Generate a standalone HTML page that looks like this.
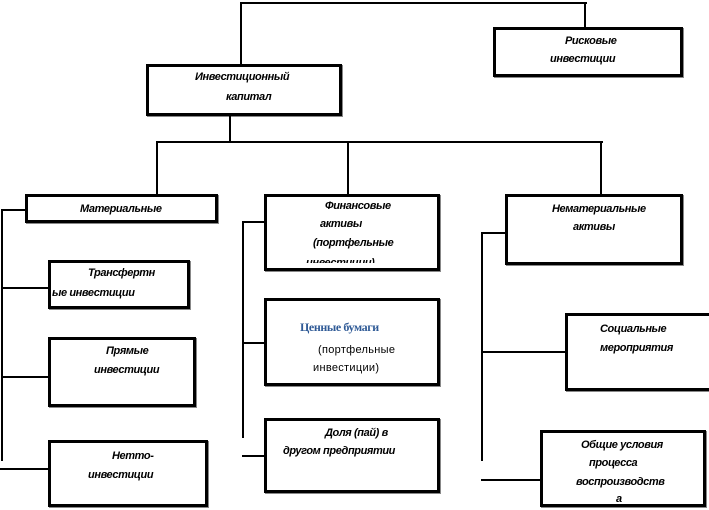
<!DOCTYPE html>
<html><head><meta charset="utf-8"><style>
body{margin:0;width:709px;height:509px;background:#fff;position:relative;overflow:hidden;font-family:"Liberation Sans",sans-serif;}
.b{position:absolute;border:3px solid #000;box-sizing:border-box;background:#fff;box-shadow:1px 1px 0 #888;overflow:hidden;}
.t{position:absolute;font-weight:bold;font-style:italic;font-size:11px;letter-spacing:-0.4px;color:#000;white-space:nowrap;line-height:22px;}
.h{position:absolute;background:#000;height:2px;}
.v{position:absolute;background:#000;width:2px;}
</style></head><body>
<div class="h" style="left:240px;top:2px;width:347px"></div>
<div class="v" style="left:240px;top:2px;height:62px"></div>
<div class="v" style="left:584px;top:2px;height:26px"></div>
<div class="b" style="left:493px;top:27px;width:190px;height:50px"></div>
<div class="t" style="left:565px;top:30px">Рисковые</div>
<div class="t" style="left:550px;top:48px">инвестиции</div>
<div class="b" style="left:146px;top:64px;width:196px;height:52px"></div>
<div class="t" style="left:195px;top:66px">Инвестиционный</div>
<div class="t" style="left:226px;top:86px">капитал</div>
<div class="v" style="left:229px;top:116px;height:26px"></div>
<div class="h" style="left:156px;top:141px;width:447px"></div>
<div class="v" style="left:156px;top:141px;height:53px"></div>
<div class="v" style="left:347px;top:141px;height:53px"></div>
<div class="v" style="left:600px;top:141px;height:53px"></div>
<div class="b" style="left:25px;top:194px;width:193px;height:29px"></div>
<div class="t" style="left:80px;top:198px">Материальные</div>
<div class="b" style="left:264px;top:194px;width:176px;height:77px"></div>
<div class="t" style="left:325px;top:197px;line-height:18px">Финансовые</div>
<div class="t" style="left:320px;top:215px;line-height:18px">активы</div>
<div class="t" style="left:313px;top:234px;line-height:18px">(портфельные</div>
<div class="t" style="left:306px;top:254px;line-height:18px;clip-path:inset(0 0 9px 0)">инвестиции)</div>
<div class="b" style="left:505px;top:194px;width:178px;height:71px"></div>
<div class="t" style="left:552px;top:198px">Нематериальные</div>
<div class="t" style="left:573px;top:216px">активы</div>
<!-- left column -->
<div class="v" style="left:1px;top:209px;height:252px"></div>
<div class="h" style="left:1px;top:209px;width:25px"></div>
<div class="b" style="left:48px;top:260px;width:142px;height:49px"></div>
<div class="t" style="left:88px;top:262px">Трансфертн</div>
<div class="t" style="left:52px;top:282px">ые инвестиции</div>
<div class="h" style="left:1px;top:287px;width:48px"></div>
<div class="b" style="left:48px;top:337px;width:148px;height:70px"></div>
<div class="t" style="left:106px;top:340px">Прямые</div>
<div class="t" style="left:94px;top:359px">инвестиции</div>
<div class="h" style="left:1px;top:376px;width:48px"></div>
<div class="b" style="left:48px;top:440px;width:160px;height:67px"></div>
<div class="t" style="left:112px;top:445px">Нетто-</div>
<div class="t" style="left:88px;top:464px">инвестиции</div>
<div class="h" style="left:0px;top:468px;width:49px"></div>
<!-- mid column -->
<div class="v" style="left:242px;top:221px;height:217px"></div>
<div class="h" style="left:242px;top:221px;width:23px"></div>
<div class="b" style="left:264px;top:298px;width:176px;height:88px"></div>
<div class="t" style="left:300px;top:316px;font-family:'Liberation Serif',serif;font-style:normal;color:#2f5a96;font-size:12px">Ценные бумаги</div>
<div class="t" style="left:318px;top:339px;font-style:normal;font-weight:normal;letter-spacing:0.3px">(портфельные</div>
<div class="t" style="left:313px;top:357px;font-style:normal;font-weight:normal;letter-spacing:0.3px">инвестиции)</div>
<div class="h" style="left:242px;top:342px;width:23px"></div>
<div class="b" style="left:264px;top:418px;width:176px;height:75px"></div>
<div class="t" style="left:325px;top:422px">Доля (пай) в</div>
<div class="t" style="left:283px;top:440px">другом предприятии</div>
<div class="h" style="left:242px;top:455px;width:23px"></div>
<!-- right column -->
<div class="v" style="left:481px;top:232px;height:229px"></div>
<div class="h" style="left:481px;top:232px;width:25px"></div>
<div class="b" style="left:565px;top:313px;width:148px;height:78px"></div>
<div class="t" style="left:600px;top:318px">Социальные</div>
<div class="t" style="left:600px;top:337px">мероприятия</div>
<div class="h" style="left:481px;top:351px;width:85px"></div>
<div class="b" style="left:540px;top:430px;width:166px;height:77px"></div>
<div class="t" style="left:581px;top:434px">Общие условия</div>
<div class="t" style="left:589px;top:452px">процесса</div>
<div class="t" style="left:576px;top:471px">воспроизводств</div>
<div class="t" style="left:616px;top:488px">а</div>
<div class="h" style="left:481px;top:479px;width:60px"></div>
</body></html>
